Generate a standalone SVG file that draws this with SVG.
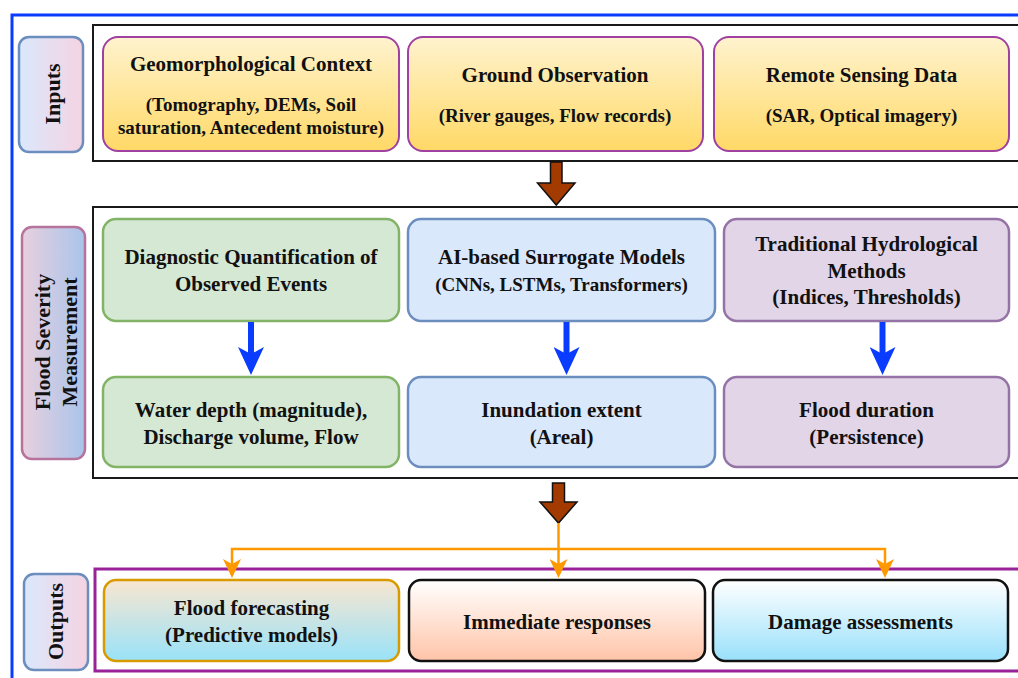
<svg xmlns="http://www.w3.org/2000/svg" width="1018" height="678" viewBox="0 0 1018 678">
<defs>
<linearGradient id="gIn" x1="0" y1="0" x2="0" y2="1"><stop offset="0" stop-color="#fff3cf"/><stop offset="1" stop-color="#ffd966"/></linearGradient>
<linearGradient id="gLab" x1="0" y1="0" x2="1" y2="0"><stop offset="0" stop-color="#dae8fc"/><stop offset="1" stop-color="#f5d3e2"/></linearGradient>
<linearGradient id="gFsm" x1="0" y1="0" x2="1" y2="0"><stop offset="0" stop-color="#e8d0de"/><stop offset="1" stop-color="#a9c4eb"/></linearGradient>
<linearGradient id="gFF" x1="0" y1="0" x2="0" y2="1"><stop offset="0" stop-color="#f9e6d0"/><stop offset="1" stop-color="#99e2f9"/></linearGradient>
<linearGradient id="gIR" x1="0" y1="0" x2="0" y2="1"><stop offset="0" stop-color="#ffffff"/><stop offset="1" stop-color="#ffc4a8"/></linearGradient>
<linearGradient id="gDA" x1="0" y1="0" x2="0" y2="1"><stop offset="0" stop-color="#ffffff"/><stop offset="1" stop-color="#99e0fb"/></linearGradient>
<marker id="mBlue" markerUnits="userSpaceOnUse" markerWidth="28" markerHeight="26" viewBox="0 0 28 26" refX="13" refY="13" orient="auto">
<path d="M0,0 L28,13 L0,26 L7,13 Z" fill="#0a3cff"/>
</marker>
<marker id="mOr" markerUnits="userSpaceOnUse" markerWidth="19" markerHeight="18" viewBox="0 0 19 18" refX="9" refY="9" orient="auto">
<path d="M0,0 L19,9 L0,18 L5,9 Z" fill="#ff9900"/>
</marker>
</defs>
<style>
text{font-family:"Liberation Serif","Times New Roman",serif;font-weight:bold;fill:#111;text-anchor:middle}
.t{font-size:21px}
.s{font-size:19px}
.lab{font-size:22px}
.cont{fill:none;stroke:#1a1a1a;stroke-width:2}
.inb{fill:url(#gIn);stroke:#a040a0;stroke-width:2}
.grn{fill:#d5e8d4;stroke:#82b366;stroke-width:2.5}
.blu{fill:#dae8fc;stroke:#6c8ebf;stroke-width:2.5}
.pur{fill:#e1d5e7;stroke:#9673a6;stroke-width:2.5}
.labbox{fill:url(#gLab);stroke:#6c8ebf;stroke-width:2.5}
.brown{fill:#a33b00;stroke:#111;stroke-width:1.5}
.bl{fill:none;stroke:#0a3cff;stroke-width:6;marker-end:url(#mBlue)}
.or{fill:none;stroke:#ff9900;stroke-width:2.5}
.ora{fill:none;stroke:#ff9900;stroke-width:2.5;marker-end:url(#mOr)}
</style>
<rect x="0" y="0" width="1018" height="678" fill="#ffffff"/>
<rect id="frame" x="12" y="15" width="1030" height="700" fill="none" stroke="#0a3cff" stroke-width="3"/>

<g id="inputs-container"><rect class="cont" x="93" y="25" width="940" height="136"/></g>
<g id="inputs-label">
<rect class="labbox" x="19" y="37" width="64" height="115" rx="10"/>
<text class="lab" transform="translate(59.5,94) rotate(-90)">Inputs</text>
</g>
<g id="geomorph">
<rect class="inb" x="103" y="37" width="296" height="114" rx="15"/>
<text class="t" x="251" y="71">Geomorphological Context</text>
<text class="s" x="251" y="111">(Tomography, DEMs, Soil</text>
<text class="s" x="251" y="134">saturation, Antecedent moisture)</text>
</g>
<g id="ground">
<rect class="inb" x="408" y="37" width="295" height="114" rx="15"/>
<text class="t" x="555" y="81.5">Ground Observation</text>
<text class="s" x="555" y="122">(River gauges, Flow records)</text>
</g>
<g id="remote">
<rect class="inb" x="714" y="37" width="295" height="114" rx="15"/>
<text class="t" x="861.5" y="81.5">Remote Sensing Data</text>
<text class="s" x="861.5" y="122">(SAR, Optical imagery)</text>
</g>

<g id="fsm-container"><rect class="cont" x="93" y="207" width="940" height="271"/></g>
<g id="fsm-label">
<rect x="22" y="227" width="63" height="232" rx="10" fill="url(#gFsm)" stroke="#b5739d" stroke-width="2.5"/>
<text class="lab" transform="translate(49.5,342) rotate(-90)">Flood Severity</text>
<text class="lab" transform="translate(76.5,342) rotate(-90)">Measurement</text>
</g>
<g id="diagnostic">
<rect class="grn" x="103" y="219" width="296" height="102" rx="13"/>
<text class="t" x="251" y="264">Diagnostic Quantification of</text>
<text class="t" x="251" y="291">Observed Events</text>
</g>
<g id="ai">
<rect class="blu" x="408" y="219" width="307" height="102" rx="13"/>
<text class="t" x="561.5" y="264">AI-based Surrogate Models</text>
<text class="s" x="561.5" y="290.5">(CNNs, LSTMs, Transformers)</text>
</g>
<g id="traditional">
<rect class="pur" x="724" y="219" width="285" height="102" rx="13"/>
<text class="t" x="866.5" y="251">Traditional Hydrological</text>
<text class="t" x="866.5" y="277.5">Methods</text>
<text class="t" x="866.5" y="304">(Indices, Thresholds)</text>
</g>
<g id="water">
<rect class="grn" x="103" y="377" width="296" height="90" rx="13"/>
<text class="t" x="251" y="417">Water depth (magnitude),</text>
<text class="t" x="251" y="443.5">Discharge volume, Flow</text>
</g>
<g id="inundation">
<rect class="blu" x="408" y="377" width="307" height="90" rx="13"/>
<text class="t" x="561.5" y="417">Inundation extent</text>
<text class="t" x="561.5" y="443.5">(Areal)</text>
</g>
<g id="duration">
<rect class="pur" x="724" y="377" width="285" height="90" rx="13"/>
<text class="t" x="866.5" y="417">Flood duration</text>
<text class="t" x="866.5" y="443.5">(Persistence)</text>
</g>

<g id="outputs-container"><rect x="95" y="569" width="940" height="102" fill="none" stroke="#992299" stroke-width="3"/></g>
<g id="outputs-label">
<rect class="labbox" x="24" y="574" width="64" height="96" rx="10"/>
<text class="lab" transform="translate(63,621.5) rotate(-90)">Outputs</text>
</g>
<g id="forecasting">
<rect x="104" y="580" width="295" height="81" rx="12" fill="url(#gFF)" stroke="#d79b00" stroke-width="2.5"/>
<text class="t" x="251.5" y="615">Flood forecasting</text>
<text class="t" x="251.5" y="641.5">(Predictive models)</text>
</g>
<g id="immediate">
<rect x="409" y="580" width="296" height="81" rx="12" fill="url(#gIR)" stroke="#111" stroke-width="2.5"/>
<text class="t" x="557" y="628.5">Immediate responses</text>
</g>
<g id="damage">
<rect x="713" y="580" width="295" height="81" rx="12" fill="url(#gDA)" stroke="#111" stroke-width="2.5"/>
<text class="t" x="860.5" y="628.5">Damage assessments</text>
</g>

<g id="connectors">
<polygon class="brown" points="550.5,162 562,162 562,183 575,183 556.3,205 537.5,183 550.5,183"/>
<polygon class="brown" points="552.5,483 564.5,483 564.5,502 577,502 558.5,523 540,502 552.5,502"/>
<path class="bl" d="M251,322 V360"/>
<path class="bl" d="M566.5,322 V360"/>
<path class="bl" d="M882.5,322 V360"/>
<path class="ora" d="M558.5,523 V568"/>
<path class="ora" d="M558.5,549 H232 V568"/>
<path class="ora" d="M558.5,549 H885 V568"/>
</g>
</svg>
